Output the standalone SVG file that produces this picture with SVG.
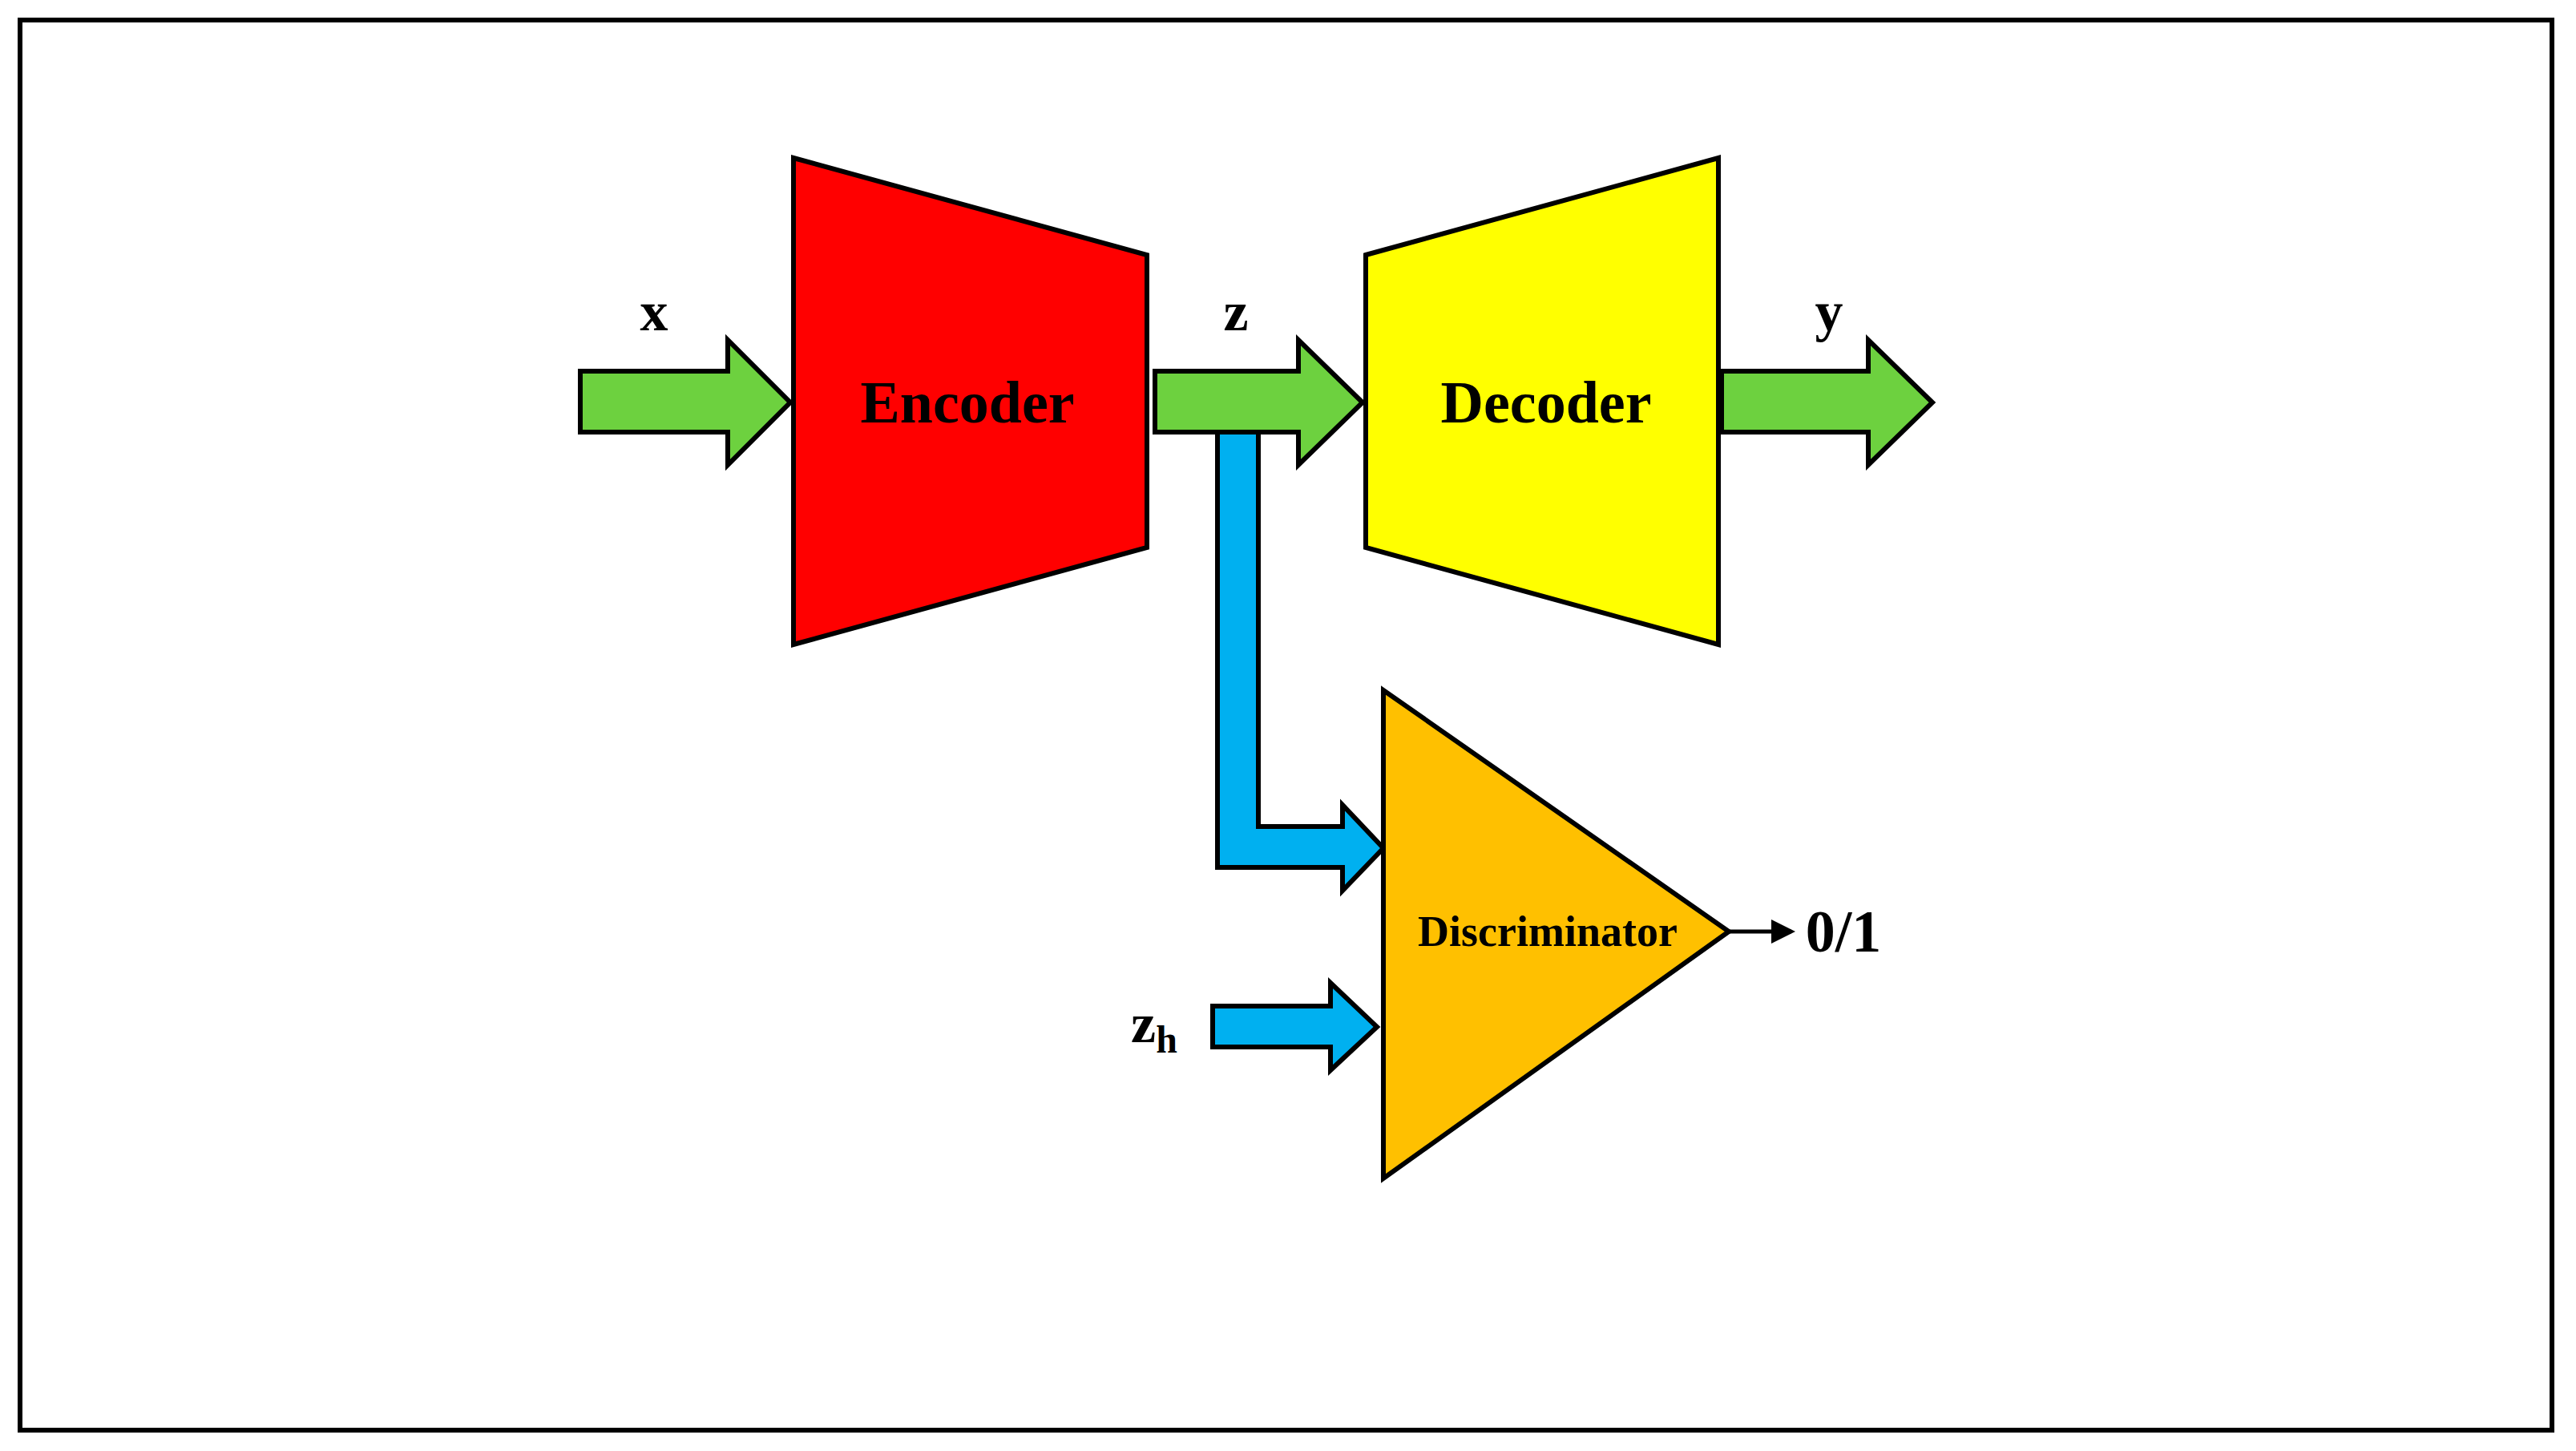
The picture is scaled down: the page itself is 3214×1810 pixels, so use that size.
<svg xmlns="http://www.w3.org/2000/svg" width="3214" height="1810" viewBox="0 0 3214 1810">
<defs>
<style>
.s{stroke:#000;stroke-width:6;stroke-linejoin:miter}
.t{font-family:"Liberation Serif","DejaVu Serif",serif;font-weight:bold;text-anchor:middle;dominant-baseline:central;fill:#000}
.g{fill:#6dd13f}
.b{fill:#00b0f0}
</style>
<marker id="ah" markerWidth="6" markerHeight="6" refX="5" refY="3" orient="auto" markerUnits="strokeWidth"><path d="M0,0L6,3L0,6z" fill="#000"/></marker>
</defs>
<rect x="0" y="0" width="3214" height="1810" fill="#fff"/>
<rect x="25" y="25" width="3159" height="1759" fill="#fff" stroke="#000" stroke-width="6"/>
<g id="connectors">
<path class="s g" d="M724,463H908V424L986,502L908,580V539H724Z"/>
<path class="s g" d="M1441,463H1620V424L1700,502L1620,580V539H1441Z"/>
<path class="s g" d="M2148,463H2331V424L2411,502L2331,580V539H2148Z"/>
<path class="s b" d="M1519,539H1570V1031H1675V1004L1726,1058L1675,1111V1082H1519Z"/>
<path class="s b" d="M1513,1255H1660V1226L1718,1281L1660,1335V1306H1513Z"/>
<line x1="2157" y1="1162" x2="2235" y2="1162" stroke="#000" stroke-width="5" marker-end="url(#ah)"/>
</g>
<g id="encoder"><path class="s" fill="#ff0000" d="M990,197L1431,318V683L990,804Z"/><text class="t" x="1207" y="502" font-size="74">Encoder</text></g>
<g id="decoder"><path class="s" fill="#ffff00" d="M1704,318L2144,197V804L1704,683Z"/><text class="t" x="1929" y="502" font-size="74">Decoder</text></g>
<g id="discriminator"><path class="s" fill="#ffc000" d="M1726,861V1470L2157,1162Z"/><text class="t" x="1931" y="1162" font-size="54">Discriminator</text></g>
<g id="labels">
<text class="t" x="816" y="388" font-size="70">x</text>
<text class="t" x="1542" y="388" font-size="70">z</text>
<text class="t" x="2282" y="388" font-size="70">y</text>
<text class="t" x="2300" y="1162" font-size="74">0/1</text>
<text class="t" x="1440" y="1276" font-size="70">z<tspan font-size="48" dy="20">h</tspan></text>
</g>
</svg>
